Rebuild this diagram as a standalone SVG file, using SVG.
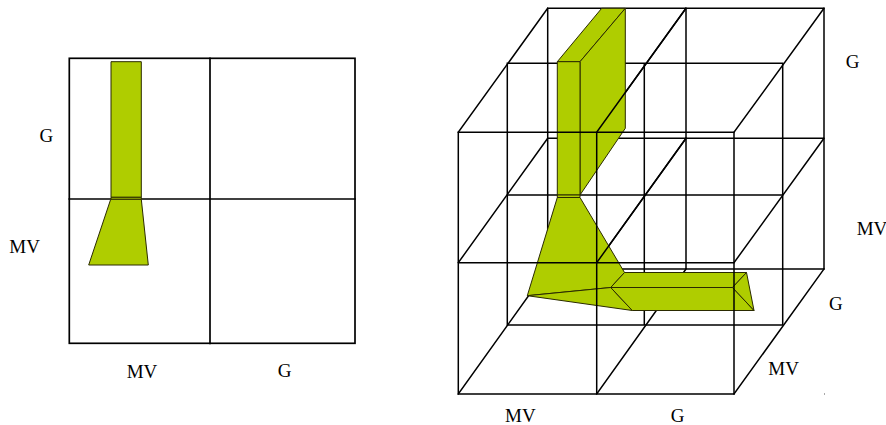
<svg xmlns="http://www.w3.org/2000/svg" width="886" height="425" viewBox="0 0 886 425">
<style>
.g{fill:none;stroke:#000;stroke-width:1.7;stroke-linecap:square}
.c{fill:none;stroke:#000;stroke-width:1.5;stroke-linecap:square}
.s{fill:#afcd00;stroke:#2a2a00;stroke-width:1;stroke-linejoin:round}
.t{font-family:"Liberation Serif","Times New Roman",serif;font-size:19px;fill:#000}
</style>
<rect width="886" height="425" fill="#fff"/>

<g id="left-grid">
<rect class="g" x="69.3" y="58.3" width="285.7" height="285"/>
<line class="g" x1="210" y1="58.3" x2="210" y2="343.3"/>
<line class="g" x1="69.3" y1="199" x2="355" y2="199"/>
</g>

<g id="left-shape">
<rect class="s" x="111" y="61.7" width="30.3" height="135.6"/>
<rect class="s" x="111" y="197.3" width="30.3" height="2"/>
<polygon class="s" points="110.7,199.3 141.3,199.3 148.3,265 88.7,265"/>
</g>

<g id="cube-back">
<path class="c" d="M547.7,8.3H824M547.7,138.3H824M547.7,269H824M547.7,8.3V269M686,8.3V269M824,8.3V269"/>
<path class="c" d="M507.3,63.3H782.7M507.3,195H782.7M507.3,325H782.7M507.3,63.3V325M644.3,63.3V325M782.7,63.3V325"/>
<path class="c" d="M458.3,132.3L547.7,8.3M596.7,132.3L686,8.3M734,132.3L824,8.3M458.3,262.7L547.7,138.3M596.7,262.7L686,138.3M734,262.7L824,138.3M458.3,394L547.7,269M596.7,394L686,269M734,394L824,269"/>
</g>

<g id="cube-shape">
<polygon class="s" points="557.3,61.7 601.7,8.3 625.3,8.3 580,61.7"/>
<polygon class="s" points="580,61.7 625.3,8.3 625.3,128.3 580,195"/>
<rect class="s" x="557.3" y="61.7" width="22.7" height="133.3"/>
<rect class="s" x="557.3" y="195" width="22.7" height="2.5"/>
<polygon class="s" points="557.3,197.5 580,197.5 624.5,272.5 610.7,287.5 527.3,295.7"/>
<polygon class="s" points="527.3,295.7 610.7,287.5 632.3,310.5"/>
<polygon class="s" points="610.7,287.5 624.5,272.5 746.5,272.5 732.5,287.5"/>
<polygon class="s" points="610.7,287.5 732.5,287.5 754,310.5 632.3,310.5"/>
<polygon class="s" points="732.5,287.5 746.5,272.5 754,310.5"/>
</g>

<g id="cube-front">
<path class="c" d="M458.3,132.3H734M458.3,262.7H734M458.3,394H734M458.3,132.3V394M596.7,132.3V394M734,132.3V394"/>
<path class="c" d="M596.7,132.3L686,8.3M596.7,262.7L686,138.3"/>
</g>

<g id="labels">
<text class="t" x="46.3" y="142.3" text-anchor="middle">G</text>
<text class="t" x="9.3" y="253.3">MV</text>
<text class="t" x="126.7" y="378.3">MV</text>
<text class="t" x="284.5" y="377.3" text-anchor="middle">G</text>
<text class="t" x="852.5" y="68.3" text-anchor="middle">G</text>
<text class="t" x="856.7" y="235">MV</text>
<text class="t" x="835.8" y="310" text-anchor="middle">G</text>
<text class="t" x="768.3" y="375">MV</text>
<text class="t" x="505" y="421.5">MV</text>
<text class="t" x="677.5" y="421.5" text-anchor="middle">G</text>
</g>
<rect x="824" y="393.5" width="1" height="1" fill="#555"/>
</svg>
